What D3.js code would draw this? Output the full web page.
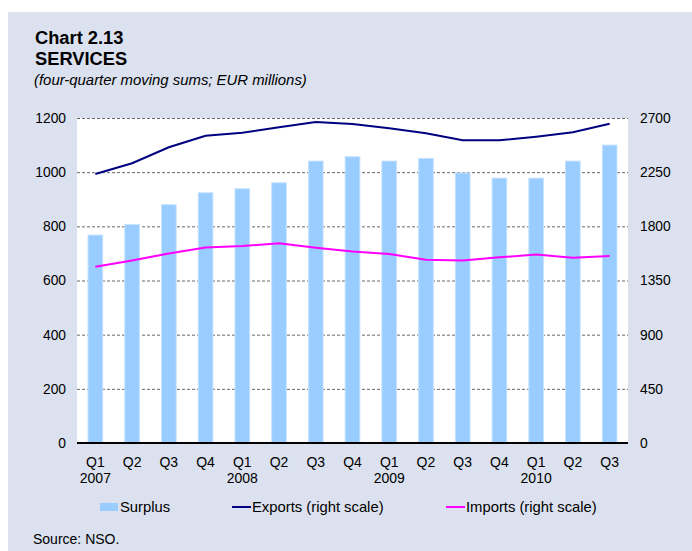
<!DOCTYPE html>
<html>
<head>
<meta charset="utf-8">
<script src="https://cdn.jsdelivr.net/npm/d3@7"></script>
<style>
  body { margin: 0; background: #fff; }
  svg text { font-family: Arial, "Liberation Sans", sans-serif; }
</style>
</head>
<body>
<div id="chart"></div>
<script>
// quarters and years shown under the axis
var quarters = ["Q1", "Q2", "Q3", "Q4", "Q1", "Q2", "Q3", "Q4", "Q1", "Q2", "Q3", "Q4", "Q1", "Q2", "Q3"];
var years = ["2007", "", "", "", "2008", "", "", "", "2009", "", "", "", "2010", "", ""];
var surplus = [768, 807, 880, 924, 939, 961, 1041, 1057, 1041, 1051, 997, 978, 978, 1041, 1100];
var exportsR = [2235, 2324, 2457, 2553, 2578, 2623, 2667, 2650, 2614, 2573, 2515, 2515, 2545, 2581, 2653];
var importsR = [1465, 1517, 1575, 1625, 1636, 1659, 1623, 1590, 1570, 1523, 1517, 1543, 1565, 1540, 1553];
var leftTicks = [0, 200, 400, 600, 800, 1000, 1200];
var rightTicks = [0, 450, 900, 1350, 1800, 2250, 2700];

var W = 692, H = 551;
var pL = 77, pR = 628, pT = 118, pB = 443;

var svg = d3.select("#chart").append("svg")
    .attr("width", W)
    .attr("height", H);

// panel background
svg.append("rect")
    .attr("x", 8).attr("y", 12)
    .attr("width", W - 8).attr("height", H - 12)
    .attr("fill", "#dbe1ee");

svg.append("rect")
    .attr("x", pL).attr("y", pT)
    .attr("width", pR - pL).attr("height", pB - pT)
    .attr("fill", "#fff");

// titles
svg.append("text").attr("x", 35).attr("y", 44)
    .attr("font-size", 18.3).attr("font-weight", "bold").text("Chart 2.13");
svg.append("text").attr("x", 35).attr("y", 64.5)
    .attr("font-size", 18.3).attr("font-weight", "bold").text("SERVICES");
svg.append("text").attr("x", 34).attr("y", 85)
    .attr("font-size", 14.9).attr("font-style", "italic")
    .text("(four-quarter moving sums; EUR millions)");

var x = d3.scaleBand()
    .domain(d3.range(quarters.length))
    .range([pL, pR])
    .paddingInner(0.6)
    .paddingOuter(0.3);

var yL = d3.scaleLinear().domain([0, 1200]).range([pB, pT]);
var yR = d3.scaleLinear().domain([0, 2700]).range([pB, pT]);

// dashed grid
svg.append("g").selectAll("line")
    .data(leftTicks.filter(function (d) { return d > 0; }))
    .enter().append("line")
    .attr("x1", pL).attr("x2", pR)
    .attr("y1", function (d) { return yL(d) + 0.5; })
    .attr("y2", function (d) { return yL(d) + 0.5; })
    .attr("stroke", "#666")
    .attr("stroke-width", 1)
    .attr("stroke-dasharray", "3,2");

// bars
svg.append("g").selectAll("rect")
    .data(surplus)
    .enter().append("rect")
    .attr("x", function (d, i) { return x(i); })
    .attr("width", x.bandwidth())
    .attr("y", function (d) { return yL(d); })
    .attr("height", function (d) { return pB - yL(d); })
    .attr("fill", "#99ccff")
    .attr("stroke", "#c9e3ff")
    .attr("stroke-width", 1);

var cx = function (d, i) { return x(i) + x.bandwidth() / 2; };

var line = d3.line()
    .x(function (d, i) { return x(i) + x.bandwidth() / 2; })
    .y(function (d) { return yR(d); });

svg.append("path").datum(exportsR)
    .attr("d", line)
    .attr("fill", "none")
    .attr("stroke", "#000080")
    .attr("stroke-width", 2);

svg.append("path").datum(importsR)
    .attr("d", line)
    .attr("fill", "none")
    .attr("stroke", "#ff00ff")
    .attr("stroke-width", 2);

// baseline
svg.append("line")
    .attr("x1", pL).attr("x2", pR)
    .attr("y1", pB).attr("y2", pB)
    .attr("stroke", "#000").attr("stroke-width", 2);

// axes
var axL = svg.append("g")
    .attr("transform", "translate(" + pL + ",0)")
    .call(d3.axisLeft(yL).tickValues(leftTicks).tickFormat(d3.format("d")).tickSize(0).tickPadding(11));
axL.select(".domain").remove();

var axR = svg.append("g")
    .attr("transform", "translate(" + pR + ",0)")
    .call(d3.axisRight(yR).tickValues(rightTicks).tickFormat(d3.format("d")).tickSize(0).tickPadding(12));
axR.select(".domain").remove();

svg.selectAll(".tick text")
    .attr("font-size", 13.8)
    .attr("fill", "#000")
    .style("font-family", "Arial, 'Liberation Sans', sans-serif");

// category labels
svg.append("g").selectAll("text")
    .data(quarters)
    .enter().append("text")
    .attr("x", cx)
    .attr("y", 467)
    .attr("text-anchor", "middle")
    .attr("font-size", 14)
    .text(function (d) { return d; });

svg.append("g").selectAll("text")
    .data(years)
    .enter().append("text")
    .attr("x", cx)
    .attr("y", 483)
    .attr("text-anchor", "middle")
    .attr("font-size", 14)
    .text(function (d) { return d; });

// legend
var lg = svg.append("g");
lg.append("rect").attr("x", 100).attr("y", 503).attr("width", 18).attr("height", 8).attr("fill", "#99ccff");
lg.append("text").attr("x", 120).attr("y", 512).attr("font-size", 14.8).text("Surplus");
lg.append("line").attr("x1", 232).attr("x2", 251).attr("y1", 507).attr("y2", 507)
    .attr("stroke", "#000080").attr("stroke-width", 2);
lg.append("text").attr("x", 252).attr("y", 512).attr("font-size", 14.8).text("Exports (right scale)");
lg.append("line").attr("x1", 446).attr("x2", 465).attr("y1", 507).attr("y2", 507)
    .attr("stroke", "#ff00ff").attr("stroke-width", 2);
lg.append("text").attr("x", 466).attr("y", 512).attr("font-size", 14.8).text("Imports (right scale)");

svg.append("text").attr("x", 33).attr("y", 544).attr("font-size", 14).text("Source: NSO.");
</script>
</body>
</html>
